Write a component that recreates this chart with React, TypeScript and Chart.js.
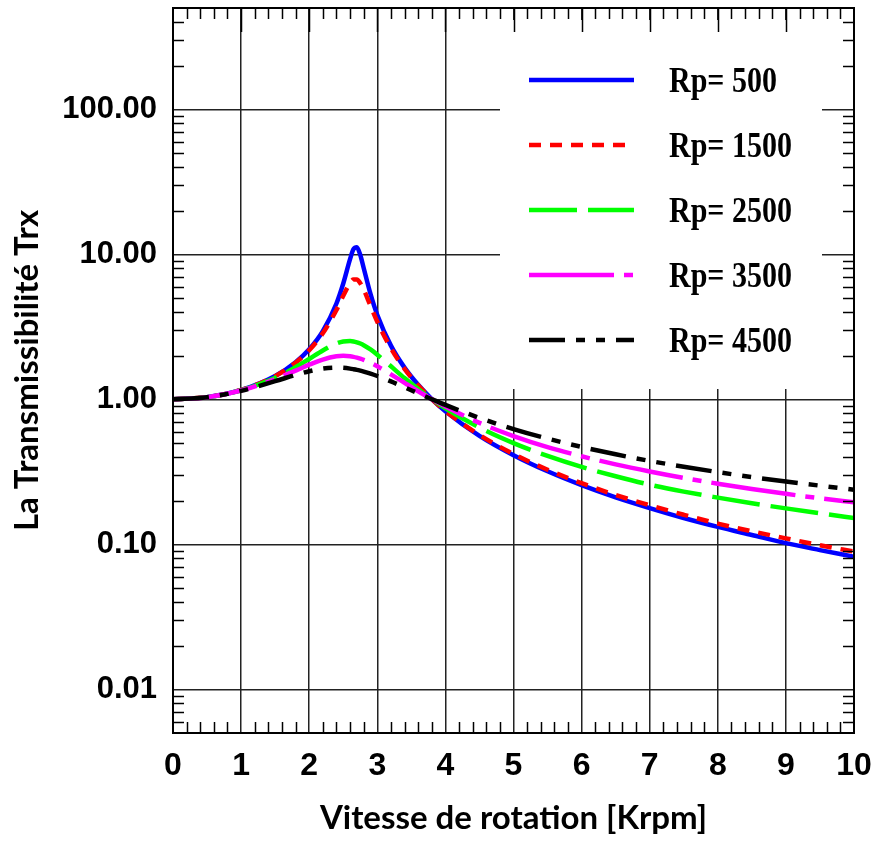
import { useEffect, useRef } from "react";
import { Chart, registerables } from "chart.js";

Chart.register(...registerables);

// Rotation speed (krpm)
const speeds = [
  0, 0.5, 1, 1.5, 1.8, 2, 2.2, 2.4, 2.5, 2.6, 2.65, 2.7, 2.75, 2.8, 2.9, 3, 3.2,
  3.4, 3.6, 3.8, 4, 4.5, 5, 5.5, 6, 6.5, 7, 7.5, 8, 8.5, 9, 9.5, 10,
];

// Transmissibility for each Rp value
const rp500 = [
  1, 1.036, 1.16, 1.449, 1.804, 2.217, 2.958, 4.582, 6.297, 9.267, 10.85, 11.2,
  9.888, 8.053, 5.331, 3.818, 2.347, 1.655, 1.259, 1.005, 0.828, 0.56, 0.412,
  0.319, 0.256, 0.211, 0.178, 0.152, 0.132, 0.116, 0.102, 0.0913, 0.0821,
];
const rp1500 = [
  1, 1.036, 1.16, 1.446, 1.791, 2.183, 2.854, 4.135, 5.181, 6.346, 6.709, 6.709,
  6.329, 5.716, 4.423, 3.429, 2.248, 1.624, 1.25, 1.004, 0.832, 0.568, 0.42,
  0.327, 0.264, 0.219, 0.186, 0.16, 0.139, 0.123, 0.11, 0.0985, 0.0892,
];
const rp2500 = [
  1, 1.036, 1.155, 1.408, 1.666, 1.899, 2.174, 2.428, 2.507, 2.525, 2.509, 2.475,
  2.426, 2.363, 2.208, 2.033, 1.69, 1.402, 1.177, 1.003, 0.868, 0.639, 0.499,
  0.407, 0.342, 0.295, 0.258, 0.231, 0.21, 0.192, 0.177, 0.164, 0.152,
];
const rp3500 = [
  1, 1.035, 1.151, 1.377, 1.578, 1.734, 1.882, 1.98, 1.995, 1.981, 1.963, 1.938,
  1.907, 1.871, 1.786, 1.69, 1.488, 1.3, 1.138, 1.003, 0.891, 0.688, 0.558,
  0.468, 0.405, 0.356, 0.318, 0.287, 0.262, 0.241, 0.223, 0.208, 0.195,
];
const rp4500 = [
  1, 1.035, 1.144, 1.334, 1.475, 1.564, 1.63, 1.655, 1.649, 1.629, 1.614, 1.597,
  1.577, 1.555, 1.505, 1.449, 1.33, 1.211, 1.101, 1.002, 0.915, 0.745, 0.624,
  0.536, 0.47, 0.418, 0.376, 0.343, 0.315, 0.291, 0.271, 0.254, 0.238,
];

const seriesLabels = ["Rp= 500", "Rp= 1500", "Rp= 2500", "Rp= 3500", "Rp= 4500"];
const decadeTicks = [0.01, 0.1, 1, 10, 100];

const series = [
  { label: seriesLabels[0], values: rp500, color: "#0000ff", dash: [] as number[], order: 5 },
  { label: seriesLabels[1], values: rp1500, color: "#ff0000", dash: [12, 9], order: 4 },
  { label: seriesLabels[2], values: rp2500, color: "#00ff00", dash: [48, 11], order: 3 },
  { label: seriesLabels[3], values: rp3500, color: "#ff00ff", dash: [85, 10, 9, 10], order: 2 },
  { label: seriesLabels[4], values: rp4500, color: "#000000", dash: [36, 11, 9, 11, 9, 11], order: 1 },
];

const LINE_W = 4.5;

// Frame, inward minor ticks and the boxed legend
const framePlugin = {
  id: "frameAndLegend",
  beforeDatasetsDraw(chart: any) {
    const { ctx, chartArea } = chart;
    // white legend panel hides the grid behind it
    ctx.save();
    ctx.fillStyle = "#ffffff";
    ctx.fillRect(chartArea.left + 327, chartArea.top + 12, 322, 369);
    ctx.restore();
  },
  afterDraw(chart: any) {
    const { ctx, chartArea } = chart;
    const { left, right, top, bottom } = chartArea;
    const xs = chart.scales.x;
    const ys = chart.scales.y;
    ctx.save();
    ctx.strokeStyle = "#000";
    ctx.lineWidth = 1.5;
    ctx.setLineDash([]);
    ctx.beginPath();
    // x ticks every 0.2 krpm
    for (let i = 1; i < 50; i++) {
      const v = i / 5;
      const px = Math.round(xs.getPixelForValue(v)) + 0.5;
      const major = i % 5 === 0;
      ctx.moveTo(px, top);
      ctx.lineTo(px, top + (major ? 24 : 11));
      if (!major) {
        ctx.moveTo(px, bottom);
        ctx.lineTo(px, bottom - 11);
      }
    }
    // logarithmic minor ticks on both sides
    for (let k = -3; k <= 2; k++) {
      for (let m = 2; m <= 9; m++) {
        const v = m * Math.pow(10, k);
        if (v <= ys.min || v >= ys.max) continue;
        const py = Math.round(ys.getPixelForValue(v)) + 0.5;
        ctx.moveTo(left, py);
        ctx.lineTo(left + 11, py);
        ctx.moveTo(right, py);
        ctx.lineTo(right - 11, py);
      }
    }
    ctx.stroke();
    ctx.lineWidth = 2;
    ctx.strokeRect(left, top, right - left, bottom - top);

    // legend entries
    const lx0 = left + 356;
    const lx1 = left + 461;
    const tx = left + 496;
    series.forEach((s, i) => {
      const ly = top + 72 + i * 65;
      ctx.beginPath();
      ctx.setLineDash(s.dash);
      ctx.lineCap = "butt";
      ctx.lineWidth = LINE_W;
      ctx.strokeStyle = s.color;
      ctx.moveTo(lx0, ly);
      ctx.lineTo(lx1, ly);
      ctx.stroke();
      ctx.setLineDash([]);
      ctx.save();
      ctx.translate(tx, ly + 12);
      ctx.scale(1, 1.2);
      ctx.fillStyle = "#000";
      ctx.font = "bold 30px 'Liberation Serif', 'Times New Roman', serif";
      ctx.textBaseline = "alphabetic";
      ctx.textAlign = "left";
      ctx.fillText(s.label, 0, 0);
      ctx.restore();
    });
    ctx.restore();
  },
};

export default function App() {
  const ref = useRef<HTMLCanvasElement>(null);

  useEffect(() => {
    const canvas = ref.current;
    if (!canvas) return;
    const chart = new Chart(canvas, {
      type: "line",
      data: {
        datasets: series.map((s) => ({
          label: s.label,
          data: speeds.map((x, i) => ({ x, y: s.values[i] })),
          borderColor: s.color,
          backgroundColor: s.color,
          borderWidth: LINE_W,
          borderDash: s.dash,
          borderCapStyle: "butt",
          pointRadius: 0,
          cubicInterpolationMode: "monotone",
          fill: false,
          order: s.order,
        })),
      },
      options: {
        responsive: false,
        animation: false,
        devicePixelRatio: 1,
        layout: { padding: { top: 8, right: 21, left: 0, bottom: 0 } },
        plugins: {
          legend: { display: false },
          tooltip: { enabled: false },
        },
        scales: {
          x: {
            type: "linear",
            min: 0,
            max: 10,
            ticks: {
              stepSize: 1,
              padding: 14,
              color: "#000",
              autoSkip: false,
              maxRotation: 0,
              font: {
                family: "'Liberation Sans', Arial, sans-serif",
                weight: "bold",
                size: 32,
              },
            },
            grid: { color: "#222", lineWidth: 1.5, drawTicks: false },
            border: { display: false },
            title: {
              display: true,
              text: "Vitesse de rotation [Krpm]",
              color: "#000",
              font: { family: "Lato, 'Open Sans', sans-serif", weight: "bold", size: 33 },
              padding: { top: 0, bottom: 3 },
            },
            afterFit: (s: any) => {
              s.height = 108;
              s.paddingLeft = 0;
              s.paddingRight = 0;
            },
          },
          y: {
            type: "logarithmic",
            min: 0.005,
            max: 500,
            afterBuildTicks: (s: any) => {
              s.ticks = decadeTicks.map((v) => ({ value: v }));
            },
            ticks: {
              padding: 16,
              color: "#000",
              font: { family: "'Liberation Sans', Arial, sans-serif", weight: "bold", size: 31 },
              callback: (v: any) => Number(v).toFixed(2),
            },
            grid: { color: "#222", lineWidth: 1.5, drawTicks: false },
            border: { display: false },
            title: {
              display: true,
              text: "La Transmissibilité Trx",
              color: "#000",
              font: { family: "Lato, 'Open Sans', sans-serif", weight: "bold", size: 33 },
              padding: { top: 8, bottom: 0 },
            },
            afterFit: (s: any) => {
              s.width = 173;
              s.paddingTop = 0;
              s.paddingBottom = 0;
            },
          },
        },
      } as any,
      plugins: [framePlugin],
    });
    return () => chart.destroy();
  }, []);

  return (
    <div style={{ position: "fixed", left: 0, top: 0, width: 875, height: 841, background: "#fff" }}>
      <canvas ref={ref} width={875} height={841} style={{ display: "block" }} />
    </div>
  );
}
